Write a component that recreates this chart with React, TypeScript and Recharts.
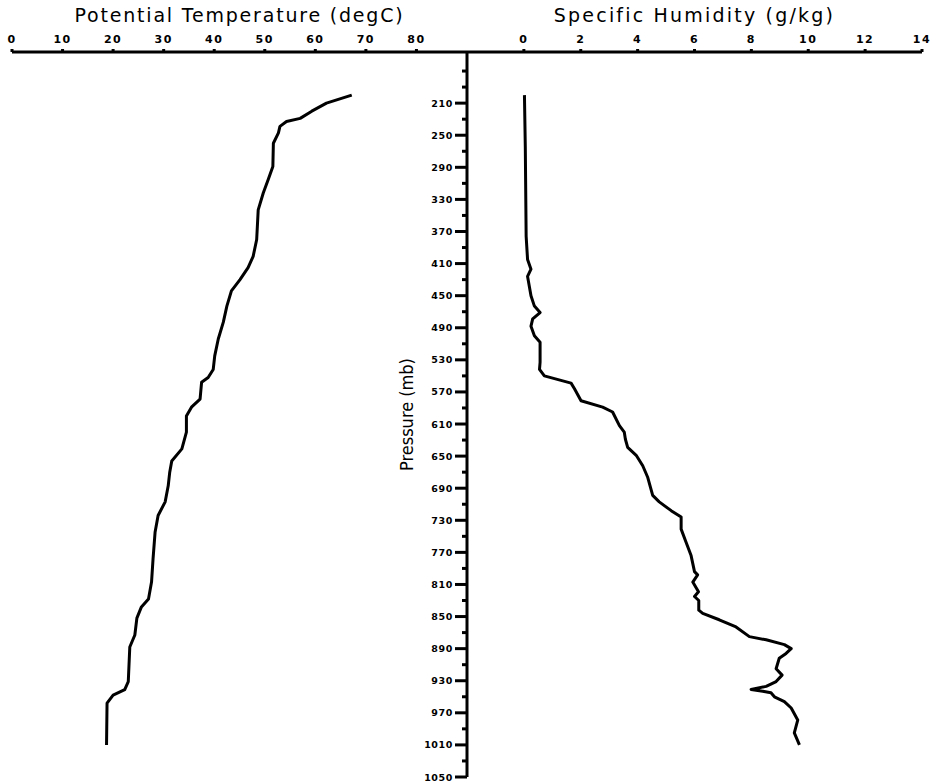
import React from 'react';
import { LineChart, Line, XAxis, YAxis } from 'recharts';

// Potential temperature profile (degC) vs pressure (mb)
const thetaPressure = [200, 210, 220, 229, 233, 239, 247, 260, 289, 305, 322, 343, 380, 401, 415, 430, 444, 463, 483, 504, 525, 542, 552, 558, 579, 589, 600, 620, 641, 656, 670, 687, 707, 724, 745, 778, 807, 828, 838, 852, 873, 888, 931, 941, 948, 958, 1010];
const thetaValues = [67.2, 62.2, 59.3, 57.0, 54.3, 53.0, 52.7, 51.7, 51.6, 50.7, 49.7, 48.7, 48.4, 47.7, 46.7, 45.1, 43.4, 42.5, 41.8, 40.8, 40.1, 39.8, 38.8, 37.5, 37.2, 35.5, 34.5, 34.5, 33.6, 31.6, 31.2, 30.9, 30.3, 28.9, 28.3, 27.9, 27.6, 27.0, 25.6, 24.7, 24.3, 23.3, 23.0, 22.3, 20.0, 18.8, 18.7];

// Specific humidity profile (g/kg) vs pressure (mb)
const humidityPressure = [200, 264, 376, 405, 417, 426, 450, 463, 471, 479, 488, 500, 508, 533, 542, 550, 559, 566, 581, 589, 595, 612, 620, 629, 639, 649, 662, 676, 699, 707, 718, 726, 741, 757, 774, 794, 798, 807, 819, 825, 830, 842, 846, 854, 863, 875, 879, 885, 890, 896, 902, 915, 923, 931, 937, 941, 943, 945, 950, 956, 964, 979, 995, 1010];
const humidityValues = [0.02, 0.05, 0.08, 0.13, 0.25, 0.13, 0.25, 0.37, 0.57, 0.31, 0.25, 0.37, 0.57, 0.57, 0.55, 0.72, 1.66, 1.78, 2.01, 2.77, 3.12, 3.36, 3.53, 3.57, 3.65, 3.95, 4.18, 4.35, 4.53, 4.76, 5.18, 5.53, 5.53, 5.70, 5.88, 6.0, 6.11, 5.94, 6.14, 6.0, 6.15, 6.15, 6.29, 6.87, 7.46, 7.93, 8.52, 9.16, 9.40, 9.22, 8.98, 8.87, 9.08, 8.87, 8.52, 7.99, 8.40, 8.69, 8.81, 9.16, 9.40, 9.63, 9.51, 9.69];

// Ticks
const thetaTicks = [0, 10, 20, 30, 40, 50, 60, 70, 80];
const humidityTicks = [0, 2, 4, 6, 8, 10, 12, 14];
const pressureMajorTicks = [210, 250, 290, 330, 370, 410, 450, 490, 530, 570, 610, 650, 690, 730, 770, 810, 850, 890, 930, 970, 1010, 1050];
const pressureMinorTicks = [170, 190, 230, 270, 310, 350, 390, 430, 470, 510, 550, 590, 630, 670, 710, 750, 790, 830, 870, 910, 950, 990, 1030];

const thetaData = thetaPressure.map((p, i) => ({ p, theta: thetaValues[i] }));
const humidityData = humidityPressure.map((p, i) => ({ p, q: humidityValues[i] }));
const pressureTicks = [...pressureMajorTicks, ...pressureMinorTicks].sort((a, b) => a - b);

const TICK_FONT = { fontSize: 11, fontWeight: 'bold', fill: '#000', fontFamily: 'DejaVu Sans', letterSpacing: 1.5 } as any;
const TITLE_STYLE = { fontSize: 19, fill: '#000', fontFamily: 'DejaVu Sans' };

const PressureTick = (props: any) => {
  const { x, y, payload } = props;
  const v = payload.value;
  const major = pressureMajorTicks.includes(v);
  const len = major ? 12 : 5;
  return (
    <g>
      <line x1={x - len} x2={x} y1={y} y2={y} stroke="#000" strokeWidth={3} />
      {major && (
        <text
          x={x - len - 2}
          y={y}
          dy={3.5}
          textAnchor="end"
          fontSize={9.5}
          fontWeight="bold"
          fontFamily="DejaVu Sans"
          letterSpacing={0.6}
          fill="#000"
        >
          {v}
        </text>
      )}
    </g>
  );
};

export default function App() {
  return (
    <div style={{ position: 'absolute', left: 0, top: 0, width: 932, height: 784, background: '#fff' }}>
      <div style={{ position: 'absolute', left: 0, top: 0 }}>
        <LineChart
          width={470}
          height={784}
          layout="vertical"
          data={thetaData}
          margin={{ top: 5, right: 3, bottom: 7, left: 12 }}
        >
          <XAxis
            type="number"
            orientation="top"
            dataKey="theta"
            domain={[0, 90]}
            ticks={thetaTicks}
            interval={0}
            height={47}
            tickSize={3}
            tickMargin={6}
            axisLine={{ stroke: '#000', strokeWidth: 3 }}
            tickLine={{ stroke: '#000', strokeWidth: 3 }}
            tick={TICK_FONT}
            label={{ value: 'Potential Temperature (degC)', position: 'insideTop', offset: 4, style: { ...TITLE_STYLE, letterSpacing: 1.8 } as any }}
          />
          <YAxis type="number" dataKey="p" domain={[150, 1050]} hide padding={{ top: 3, bottom: 0 }} />
          <Line
            dataKey="theta"
            type="linear"
            stroke="#000"
            strokeWidth={3}
            dot={false}
            strokeLinejoin="round"
            isAnimationActive={false}
          />
        </LineChart>
      </div>
      <div style={{ position: 'absolute', left: 380, top: 0 }}>
        <LineChart
          width={552}
          height={784}
          layout="vertical"
          data={humidityData}
          margin={{ top: 5, right: 10, bottom: 7, left: 0 }}
        >
          <XAxis
            type="number"
            orientation="top"
            dataKey="q"
            domain={[-2, 14]}
            ticks={humidityTicks}
            interval={0}
            height={47}
            tickSize={3}
            tickMargin={6}
            axisLine={{ stroke: '#000', strokeWidth: 3 }}
            tickLine={{ stroke: '#000', strokeWidth: 3 }}
            tick={TICK_FONT}
            label={{ value: 'Specific Humidity (g/kg)', position: 'insideTop', offset: 4, style: { ...TITLE_STYLE, letterSpacing: 2.2 } as any }}
          />
          <YAxis
            type="number"
            dataKey="p"
            domain={[150, 1050]}
            ticks={pressureTicks}
            interval={0}
            width={87}
            padding={{ top: 3, bottom: 0 }}
            tickSize={0}
            tickMargin={0}
            tickLine={false}
            axisLine={{ stroke: '#000', strokeWidth: 3 }}
            tick={<PressureTick />}
            label={{
              value: 'Pressure (mb)',
              angle: -90,
              position: 'insideLeft',
              offset: 27,
              style: { textAnchor: 'middle', fontSize: 18, fill: '#000', fontFamily: "'Liberation Sans Narrow', 'DejaVu Sans Condensed', sans-serif" },
            }}
          />
          <Line
            dataKey="q"
            type="linear"
            stroke="#000"
            strokeWidth={3}
            dot={false}
            strokeLinejoin="round"
            isAnimationActive={false}
          />
        </LineChart>
      </div>
    </div>
  );
}
